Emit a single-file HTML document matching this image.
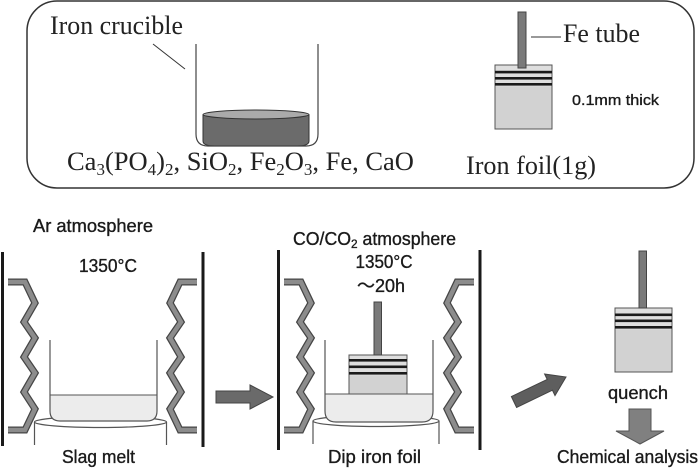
<!DOCTYPE html>
<html>
<head>
<meta charset="utf-8">
<style>
  html,body{margin:0;padding:0;background:#fff;}
  body{width:700px;height:469px;overflow:hidden;}
  svg{display:block;}
  .serif{font-family:"Liberation Serif","Noto Serif CJK SC",serif;fill:#222;}
  .sans{font-family:"Liberation Sans","Noto Sans CJK JP",sans-serif;fill:#1a1a1a;stroke:#1a1a1a;stroke-width:0.35;}
</style>
</head>
<body>
<svg width="700" height="469" viewBox="0 0 700 469" xmlns="http://www.w3.org/2000/svg">
  <!-- top rounded box -->
  <rect x="27" y="1" width="667" height="187" rx="30" ry="30" fill="none" stroke="#333" stroke-width="1.5"/>

  <!-- Iron crucible label + leader -->
  <text class="serif" x="50" y="34" font-size="26" textLength="133" lengthAdjust="spacingAndGlyphs">Iron crucible</text>
  <line x1="153" y1="44" x2="185" y2="69" stroke="#333" stroke-width="1"/>

  <!-- top crucible -->
  <path d="M203,115 L203,141 Q203,146 215,146 L297,146 Q309,146 309,141 L309,115 Z" fill="#6b6b6b" stroke="#333" stroke-width="1"/>
  <ellipse cx="256" cy="114.5" rx="53" ry="4.5" fill="#aaa" stroke="#333" stroke-width="1"/>
  <path d="M196,44 V134 Q196,146 208,146 H306 Q318,146 318,134 V44" fill="none" stroke="#444" stroke-width="1.2"/>

  <!-- formula -->
  <text class="serif" x="67" y="170" font-size="26.5">Ca<tspan font-size="17" dy="5">3</tspan><tspan dy="-5">(PO</tspan><tspan font-size="17" dy="5">4</tspan><tspan dy="-5">)</tspan><tspan font-size="17" dy="5">2</tspan><tspan dy="-5">, SiO</tspan><tspan font-size="17" dy="5">2</tspan><tspan dy="-5">, Fe</tspan><tspan font-size="17" dy="5">2</tspan><tspan dy="-5">O</tspan><tspan font-size="17" dy="5">3</tspan><tspan dy="-5">, Fe, CaO</tspan></text>

  <!-- top foil -->
  <rect x="495" y="65" width="57" height="64" fill="#d2d2d2" stroke="#555" stroke-width="1"/>
  <rect x="495.5" y="65.5" width="56" height="21" fill="#dedede"/>
  <rect x="495" y="70.8" width="57" height="2.6" fill="#1a1a1a"/>
  <rect x="495" y="77" width="57" height="2.6" fill="#1a1a1a"/>
  <rect x="495" y="83" width="57" height="2.6" fill="#1a1a1a"/>
  <rect x="518" y="12" width="8" height="56" fill="#7a7a7a" stroke="#444" stroke-width="1"/>
  <line x1="531" y1="37" x2="561" y2="37" stroke="#333" stroke-width="1"/>
  <text class="serif" x="563" y="42" font-size="26" textLength="77" lengthAdjust="spacingAndGlyphs">Fe tube</text>
  <text class="sans" x="572" y="105" font-size="15" textLength="87" lengthAdjust="spacingAndGlyphs">0.1mm thick</text>
  <text class="serif" x="466" y="174" font-size="26" textLength="130" lengthAdjust="spacingAndGlyphs">Iron foil(1g)</text>

  <!-- ===== Left panel ===== -->
  <text class="sans" x="33" y="232" font-size="18" textLength="120" lengthAdjust="spacingAndGlyphs">Ar atmosphere</text>
  <text class="sans" x="79" y="272" font-size="18" textLength="58" lengthAdjust="spacingAndGlyphs">1350°C</text>
  <line x1="2.5" y1="252" x2="2.5" y2="446" stroke="#1a1a1a" stroke-width="3"/>
  <line x1="203" y1="252" x2="203" y2="447" stroke="#1a1a1a" stroke-width="3"/>
  <!-- heaters -->
  <g fill="none" stroke-linejoin="miter">
    <path d="M8,282 H25 L35,303 L24,322 L35,338 L24,357 L35,373 L24,392 L35,409 L25,430 H8" stroke="#454545" stroke-width="7"/>
    <path d="M8,282 H25 L35,303 L24,322 L35,338 L24,357 L35,373 L24,392 L35,409 L25,430 H8" stroke="#8c8c8c" stroke-width="4.5"/>
    <path d="M197,282 H180 L170,303 L181,322 L170,338 L181,357 L170,373 L181,392 L170,409 L180,430 H197" stroke="#454545" stroke-width="7"/>
    <path d="M197,282 H180 L170,303 L181,322 L170,338 L181,357 L170,373 L181,392 L170,409 L180,430 H197" stroke="#8c8c8c" stroke-width="4.5"/>
  </g>
  <!-- pedestal -->
  <path d="M34.5,422 V445 M166.5,422 V445" stroke="#555" stroke-width="1.2" fill="none"/>
  <ellipse cx="100.5" cy="422" rx="66" ry="5.5" fill="#fff" stroke="#555" stroke-width="1.2"/>
  <!-- crucible -->
  <path d="M50,395 H157 V411 Q157,421 147,421 H60 Q50,421 50,411 Z" fill="#ececec"/>
  <line x1="50" y1="395" x2="157" y2="395" stroke="#555" stroke-width="1"/>
  <path d="M50,340 V411 Q50,421 60,421 H147 Q157,421 157,411 V340" fill="none" stroke="#555" stroke-width="1.2"/>
  <text class="sans" x="62" y="463" font-size="18" textLength="73" lengthAdjust="spacingAndGlyphs">Slag melt</text>

  <!-- right arrow -->
  <polygon points="216,391 250,391 250,385 273,397 250,409 250,403 216,403" fill="#6a6a6a" stroke="#444" stroke-width="1"/>

  <!-- ===== Middle panel ===== -->
  <text class="sans" x="293" y="245" font-size="18" textLength="163" lengthAdjust="spacingAndGlyphs">CO/CO<tspan font-size="12" dy="3">2</tspan><tspan dy="-3"> atmosphere</tspan></text>
  <text class="sans" x="384" y="268" font-size="18" text-anchor="middle" textLength="57" lengthAdjust="spacingAndGlyphs">1350°C</text>
  <text class="sans" x="381" y="292" font-size="18" text-anchor="middle">～20h</text>
  <line x1="278.5" y1="250" x2="278.5" y2="450" stroke="#1a1a1a" stroke-width="3"/>
  <line x1="480" y1="250" x2="480" y2="450" stroke="#1a1a1a" stroke-width="3"/>
  <g fill="none" stroke-linejoin="miter">
    <path d="M284,282 H301 L311,303 L300,322 L311,338 L300,357 L311,373 L300,392 L311,409 L301,430 H284" stroke="#454545" stroke-width="7"/>
    <path d="M284,282 H301 L311,303 L300,322 L311,338 L300,357 L311,373 L300,392 L311,409 L301,430 H284" stroke="#8c8c8c" stroke-width="4.5"/>
    <path d="M474,282 H457 L447,303 L458,322 L447,338 L458,357 L447,373 L458,392 L447,409 L457,430 H474" stroke="#454545" stroke-width="7"/>
    <path d="M474,282 H457 L447,303 L458,322 L447,338 L458,357 L447,373 L458,392 L447,409 L457,430 H474" stroke="#8c8c8c" stroke-width="4.5"/>
  </g>
  <!-- pedestal -->
  <path d="M313,421 V444 M439,421 V444" stroke="#555" stroke-width="1.2" fill="none"/>
  <ellipse cx="376" cy="421" rx="63" ry="5.5" fill="#fff" stroke="#555" stroke-width="1.2"/>
  <!-- foil in crucible -->
  <rect x="349" y="355" width="58" height="40" fill="#d2d2d2" stroke="#555" stroke-width="1"/>
  <rect x="349.5" y="355.5" width="57" height="20" fill="#dedede"/>
  <rect x="349" y="359" width="58" height="2.6" fill="#1a1a1a"/>
  <rect x="349" y="365.5" width="58" height="2.6" fill="#1a1a1a"/>
  <rect x="349" y="372" width="58" height="2.6" fill="#1a1a1a"/>
  <rect x="374" y="302" width="7.5" height="53" fill="#7a7a7a" stroke="#444" stroke-width="1"/>
  <!-- crucible -->
  <path d="M325,394 H433 V411 Q433,422 422,422 H336 Q325,422 325,411 Z" fill="#ececec"/>
  <line x1="325" y1="394" x2="433" y2="394" stroke="#555" stroke-width="1"/>
  <path d="M325,340 V411 Q325,422 336,422 H422 Q433,422 433,411 V340" fill="none" stroke="#555" stroke-width="1.2"/>
  <text class="sans" x="328" y="463" font-size="18" textLength="93" lengthAdjust="spacingAndGlyphs">Dip iron foil</text>

  <!-- diagonal arrow -->
  <polygon points="511.4,396.6 547.2,379.4 544.6,374 566,377 555,395.6 552.4,390.2 516.6,407.4" fill="#5e5e5e" stroke="#444" stroke-width="1"/>

  <!-- ===== Right: quench ===== -->
  <rect x="615" y="308" width="57" height="64" fill="#d2d2d2" stroke="#555" stroke-width="1"/>
  <rect x="615.5" y="308.5" width="56" height="21" fill="#dedede"/>
  <rect x="615" y="313.5" width="57" height="2.6" fill="#1a1a1a"/>
  <rect x="615" y="319.5" width="57" height="2.6" fill="#1a1a1a"/>
  <rect x="615" y="326" width="57" height="2.6" fill="#1a1a1a"/>
  <rect x="639" y="251" width="7.5" height="57" fill="#7a7a7a" stroke="#444" stroke-width="1"/>
  <text class="sans" x="608" y="399" font-size="18" textLength="60" lengthAdjust="spacingAndGlyphs">quench</text>
  <polygon points="629,409 651,409 651,431 664,431 640,444 616,431 629,431" fill="#808080" stroke="#555" stroke-width="1"/>
  <text class="sans" x="557" y="463" font-size="18" textLength="141" lengthAdjust="spacingAndGlyphs">Chemical analysis</text>
</svg>
</body>
</html>
